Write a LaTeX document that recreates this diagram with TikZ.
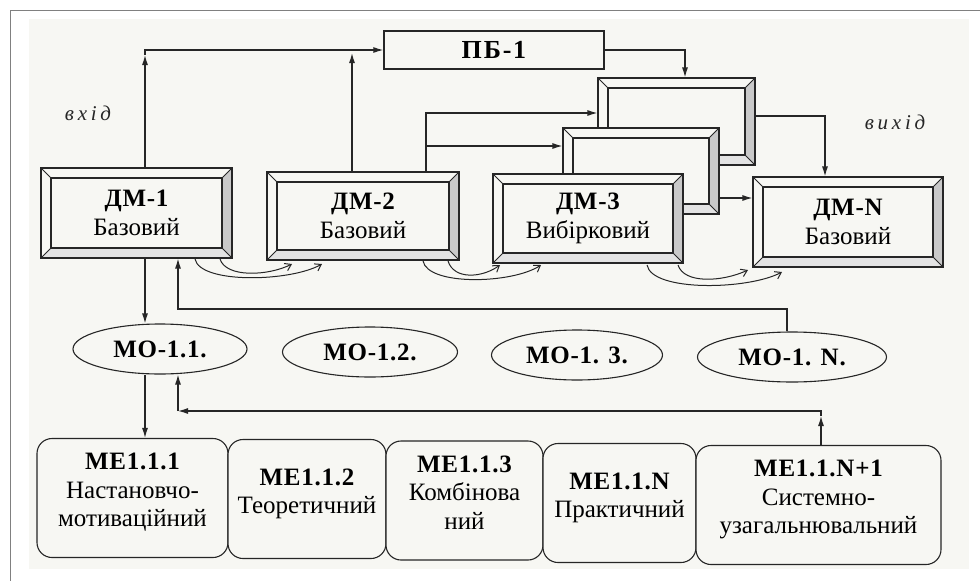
\documentclass[tikz,border=0pt]{standalone}
\usepackage{fontspec}
\setmainfont{Liberation Serif}
\usetikzlibrary{arrows.meta,shapes.geometric,calc}
\definecolor{paper}{HTML}{F7F7F3}
\definecolor{ink}{HTML}{262626}
\definecolor{bevR}{HTML}{C9C9C9}
\definecolor{bevB}{HTML}{E3E3E3}
\newcommand{\txtfont}{\fontsize{25}{28.5}\selectfont}
\newcommand{\ttl}[1]{{\bfseries\addfontfeature{LetterSpace=3}#1}}
\tikzset{
  ln/.style={draw=ink, line width=1.2pt},
  arr/.style={ln, -{Latex[length=10pt,width=6pt]}},
  swoosh/.style={ln, line width=1pt, -{Straight Barb[length=6pt,width=8pt]}},
  bevelbox/.style n args={2}{draw=ink, line width=1.1pt, fill=paper, rectangle,
    inner sep=0pt, minimum width=#1, minimum height=#2, align=center, font=\txtfont,
    path picture={
      \fill[bevR] (path picture bounding box.north east)
        -- ([shift={(-10pt,-10pt)}]path picture bounding box.north east)
        -- ([shift={(-10pt,10pt)}]path picture bounding box.south east)
        -- (path picture bounding box.south east) -- cycle;
      \fill[bevB] (path picture bounding box.south west)
        -- ([shift={(10pt,10pt)}]path picture bounding box.south west)
        -- ([shift={(-10pt,10pt)}]path picture bounding box.south east)
        -- (path picture bounding box.south east) -- cycle;
      \draw[ink, line width=1.1pt] ([shift={(10pt,-10pt)}]path picture bounding box.north west)
        rectangle ([shift={(-10pt,10pt)}]path picture bounding box.south east);
      \draw[ink, line width=0.9pt] (path picture bounding box.north west)
        -- ([shift={(10pt,-10pt)}]path picture bounding box.north west);
      \draw[ink, line width=0.9pt] (path picture bounding box.north east)
        -- ([shift={(-10pt,-10pt)}]path picture bounding box.north east);
      \draw[ink, line width=0.9pt] (path picture bounding box.south west)
        -- ([shift={(10pt,10pt)}]path picture bounding box.south west);
      \draw[ink, line width=0.9pt] (path picture bounding box.south east)
        -- ([shift={(-10pt,10pt)}]path picture bounding box.south east);
    }},
  pbbox/.style={draw=ink, line width=1.3pt, fill=paper, rectangle, inner sep=0pt,
    minimum width=220pt, minimum height=38pt,
    font=\fontsize{26}{30}\selectfont\bfseries\addfontfeature{LetterSpace=7}},
  moell/.style={draw=ink, line width=1.1pt, fill=paper, ellipse, inner sep=0pt,
    minimum height=50pt, font=\txtfont\bfseries\addfontfeature{LetterSpace=3}},
  mebox/.style={draw=ink, line width=1.1pt, fill=paper, rectangle, rounded corners=15pt,
    inner sep=0pt, minimum height=119pt, align=center, font=\txtfont, text depth=16pt},
  lbl/.style={font=\fontsize{21}{24}\selectfont\itshape\addfontfeature{LetterSpace=18}, text=ink}
}
\begin{document}
\begin{tikzpicture}[x=1pt,y=-1pt]
\useasboundingbox (0,0) rectangle (980,581);
\fill[white] (0,0) rectangle (980,581);
\fill[paper] (29,19) rectangle (969,569);
\draw[gray, line width=1pt] (10,581) -- (10,10) -- (980,10);

% top block
\node[pbbox] (pb) at (494,50) {ПБ-1};

% stacked modules
\node[bevelbox={157pt}{87pt}] (ba) at (676.5,121.5) {};
\node[bevelbox={156pt}{86pt}] (bb) at (641,171) {};
\node[bevelbox={190pt}{89pt}] (dm3) at (588,218.5) {\ttl{ДМ-3}\\Вибірковий};
\node[bevelbox={191pt}{90pt}] (dm1) at (136.5,213) {\ttl{ДМ-1}\\Базовий};
\node[bevelbox={192pt}{88pt}] (dm2) at (363,216) {\ttl{ДМ-2}\\Базовий};
\node[bevelbox={190pt}{90pt}] (dmN) at (848,222) {\ttl{ДМ-N}\\Базовий};

\node[lbl] (inlbl) at (88,113) {вхід};
\node[lbl] (outlbl) at (895,122) {вихід};

% ellipses
\node[moell, minimum width=174pt] (mo1) at (160,349) {МО-1.1.};
\node[moell, minimum width=175pt] (mo2) at (370,352) {МО-1.2.};
\node[moell, minimum width=171pt] (mo3) at (577,355) {МО-1. 3.};
\node[moell, minimum width=189pt] (moN) at (792,357) {МО-1. N.};

% bottom elements
\node[mebox, minimum width=191pt] (me1) at (132.5,498) {\ttl{МЕ1.1.1}\\Настановчо-\\мотиваційний};
\node[mebox, minimum width=158pt] (me2) at (307,499) {\ttl{МЕ1.1.2}\\Теоретичний};
\node[mebox, minimum width=157pt] (me3) at (464.5,500.5) {\ttl{МЕ1.1.3}\\Комбінова\\ний};
\node[mebox, minimum width=153pt] (me4) at (619.5,503) {\ttl{МЕ1.1.N}\\Практичний};
\node[mebox, minimum width=245pt] (me5) at (818.5,505) {\ttl{МЕ1.1.N+1}\\Системно-\\узагальнювальний};

% coordinates
\coordinate (j1) at (145,50);
\coordinate (j2) at (352,50);
\coordinate (k1) at (685,50);
\coordinate (k2) at (426,113);
\coordinate (k3) at (426,146);
\coordinate (k4) at (825,116);
\coordinate (k5) at (719,198);
\coordinate (f1) at (178,309);
\coordinate (f2) at (787,309);
\coordinate (g1) at (178,411);
\coordinate (g2) at (821,411);

% upper connectors
\draw[arr] (dm1.north -| j1) -- ([yshift=-5pt]j1);
\draw[arr] ([yshift=-5pt]j1) -- (j1) -- (pb.west);
\draw[arr] (dm2.north -| j2) -- ([yshift=-3pt]j2);
\draw[arr] (pb.east) -- (k1) -- (ba.north -| k1);
\draw[arr] (dm2.north -| k2) -- (k2) -- (ba.west |- k2);
\draw[arr] (k3) -- (bb.west |- k3);
\draw[arr] (ba.east |- k4) -- (k4) -- (dmN.north -| k4);
\draw[arr] (bb.east |- k5) -- (dmN.west |- k5);

% swooshes between modules
\coordinate (s1a) at (195,259); \coordinate (s1b) at (322,264);
\coordinate (s1c) at (220,259); \coordinate (s1d) at (292,264);
\draw[swoosh] (s1a) .. controls (200,284) and (290,282) .. (s1b);
\draw[swoosh] (s1c) .. controls (226,278) and (268,276) .. (s1d);
\coordinate (s2a) at (423,261); \coordinate (s2b) at (541,265);
\coordinate (s2c) at (448,261); \coordinate (s2d) at (500,265);
\draw[swoosh] (s2a) .. controls (428,286) and (512,284) .. (s2b);
\draw[swoosh] (s2c) .. controls (454,280) and (482,278) .. (s2d);
\coordinate (s3a) at (647,265); \coordinate (s3b) at (782,272);
\coordinate (s3c) at (678,265); \coordinate (s3d) at (748,270);
\draw[swoosh] (s3a) .. controls (652,292) and (748,290) .. (s3b);
\draw[swoosh] (s3c) .. controls (684,284) and (722,282) .. (s3d);

% lower connectors
\draw[arr] (dm1.south -| j1) -- (mo1.north -| j1);
\draw[arr] (moN.north -| f2) -- (f2) -- (f1) -- (dm1.south -| f1);
\draw[arr] (mo1.south -| j1) -- (me1.north -| j1);
\draw[arr] (me5.north -| g2) -- ([yshift=-5pt]g2);
\draw[arr] ([yshift=-5pt]g2) -- (g2) -- (g1);
\draw[arr] (g1) -- (mo1.south -| g1);
\end{tikzpicture}
\end{document}
